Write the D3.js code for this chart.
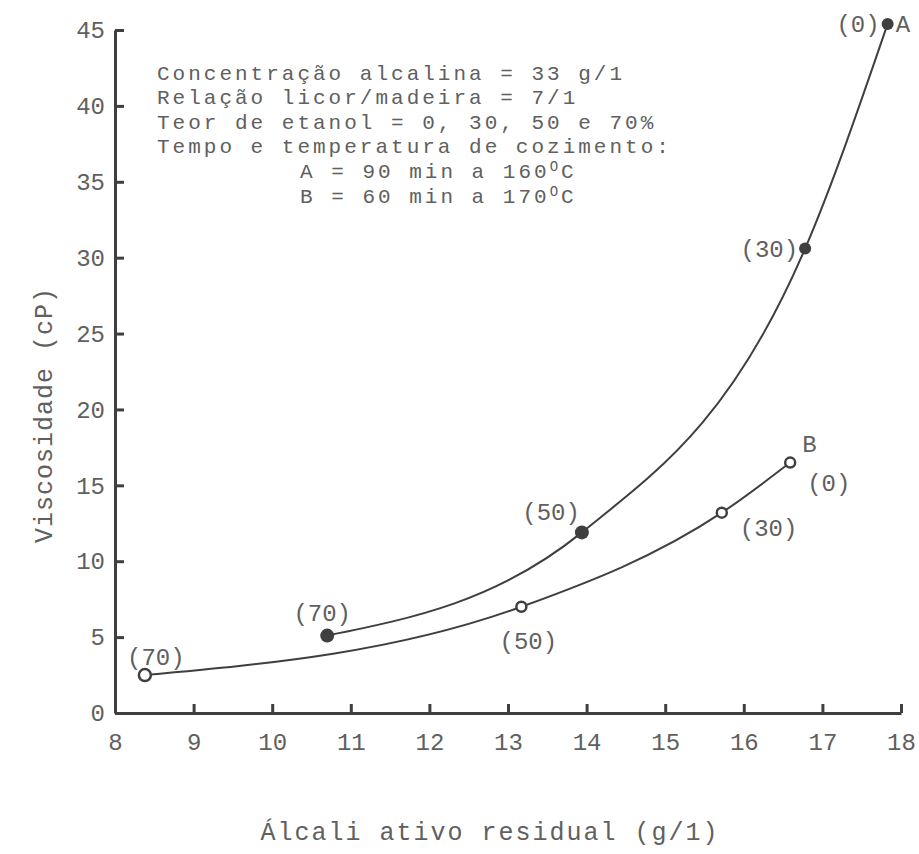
<!DOCTYPE html>
<html>
<head>
<meta charset="utf-8">
<script src="https://cdn.jsdelivr.net/npm/d3@7"></script>
<style>
	body { margin: 0; background: #fff; }
	text { font-family: "Liberation Mono", "DejaVu Sans Mono", monospace; fill: #606060; }
</style>
</head>
<body>
<div id="chart"></div>
<script>

///////////////////////////////////////////////////////////////////////////
/////////////////////////////// The data //////////////////////////////////
///////////////////////////////////////////////////////////////////////////

//Curve A - 90 min at 160 C
var alcaliA = [10.70, 13.94, 16.78, 17.83];
var viscA = [5.1, 11.9, 30.6, 45.4];
var etanolA = ["(70)", "(50)", "(30)", "(0)"];

//Curve B - 60 min at 170 C
var alcaliB = [8.38, 13.17, 15.72, 16.59];
var viscB = [2.5, 7.0, 13.2, 16.5];
var etanolB = ["(70)", "(50)", "(30)", "(0)"];

var xTicks = [8, 9, 10, 11, 12, 13, 14, 15, 16, 17, 18];
var yTicks = [0, 5, 10, 15, 20, 25, 30, 35, 40, 45];

var infoLines = [
	"Concentração alcalina = 33 g/1",
	"Relação licor/madeira = 7/1",
	"Teor de etanol = 0, 30, 50 e 70%",
	"Tempo e temperatura de cozimento:"
];
var infoTemps = [
	{ pre: "A = 90 min a 160", sup: "O", post: "C" },
	{ pre: "B = 60 min a 170", sup: "O", post: "C" }
];

///////////////////////////////////////////////////////////////////////////
//////////////////// Set up and initiate svg containers ///////////////////
///////////////////////////////////////////////////////////////////////////

var width = 919,
	height = 854;

var svg = d3.select("#chart").append("svg")
	.attr("width", width)
	.attr("height", height);

var x = d3.scaleLinear().domain([8, 18]).range([115, 901]);
var y = d3.scaleLinear().domain([0, 45]).range([713, 30]);

var lineColor = "#3f3f3f";

///////////////////////////////////////////////////////////////////////////
/////////////////////////////// Axes //////////////////////////////////////
///////////////////////////////////////////////////////////////////////////

//Ticks point inward, like the original drawing
var xAxis = svg.append("g")
	.attr("transform", "translate(0," + y(0) + ")")
	.call(d3.axisBottom(x).tickValues(xTicks).tickSizeInner(-9).tickSizeOuter(0).tickPadding(30));

var yAxis = svg.append("g")
	.attr("transform", "translate(" + x(8) + ",0)")
	.call(d3.axisLeft(y).tickValues(yTicks).tickSizeInner(-9).tickSizeOuter(0).tickPadding(10));

[xAxis, yAxis].forEach(function(a) {
	a.select(".domain").style("stroke", lineColor).style("stroke-width", 3);
	a.selectAll(".tick line").style("stroke", lineColor).style("stroke-width", 3);
	a.selectAll(".tick text")
		.style("font-family", "Liberation Mono, monospace")
		.style("font-size", "24px")
		.style("fill", "#606060");
});
xAxis.selectAll(".tick text").attr("dy", "0.3em");
xAxis.selectAll(".tick").filter(function(d) { return d === 8; }).select("line").remove();

//Axis titles
svg.append("text")
	.attr("transform", "translate(52," + 415 + ") rotate(-90)")
	.attr("text-anchor", "middle")
	.style("font-size", "25px")
	.style("letter-spacing", "1px")
	.text("Viscosidade (cP)");

svg.append("text")
	.attr("x", 490)
	.attr("y", 840)
	.attr("text-anchor", "middle")
	.style("font-size", "25px")
	.style("letter-spacing", "2px")
	.text("Álcali ativo residual (g/1)");

///////////////////////////////////////////////////////////////////////////
////////////////////////////// Info block /////////////////////////////////
///////////////////////////////////////////////////////////////////////////

var lineH = 24.3;
var info = svg.append("g").attr("transform", "translate(157,80)");

info.selectAll(".infoLine")
	.data(infoLines)
	.enter().append("text")
	.attr("class", "infoLine")
	.attr("y", function(d, i) { return i * lineH; })
	.style("font-size", "21px")
	.style("letter-spacing", "3px")
	.text(function(d) { return d; });

var temps = info.selectAll(".infoTemp")
	.data(infoTemps)
	.enter().append("text")
	.attr("class", "infoTemp")
	.attr("x", 143)
	.attr("y", function(d, i) { return (infoLines.length + i) * lineH + 1; })
	.style("font-size", "21px")
	.style("letter-spacing", "3px");
temps.append("tspan").text(function(d) { return d.pre; });
temps.append("tspan").attr("dy", -7).style("font-size", "14px").text(function(d) { return d.sup; });
temps.append("tspan").attr("dy", 7).text(function(d) { return d.post; });

///////////////////////////////////////////////////////////////////////////
/////////////////////////////// Curves ////////////////////////////////////
///////////////////////////////////////////////////////////////////////////

var dataA = alcaliA.map(function(d, i) { return { x: d, y: viscA[i], label: etanolA[i] }; });
var dataB = alcaliB.map(function(d, i) { return { x: d, y: viscB[i], label: etanolB[i] }; });

var line = d3.line()
	.x(function(d) { return x(d.x); })
	.y(function(d) { return y(d.y); })
	.curve(d3.curveMonotoneX);

svg.append("path")
	.datum(dataA)
	.attr("d", line)
	.style("fill", "none")
	.style("stroke", lineColor)
	.style("stroke-width", 2);

svg.append("path")
	.datum(dataB)
	.attr("d", line)
	.style("fill", "none")
	.style("stroke", lineColor)
	.style("stroke-width", 2);

//Filled dots for A, open dots for B
svg.selectAll(".dotA")
	.data(dataA)
	.enter().append("circle")
	.attr("class", "dotA")
	.attr("cx", function(d) { return x(d.x); })
	.attr("cy", function(d) { return y(d.y); })
	.attr("r", function(d, i) { return i < 2 ? 7 : 6; })
	.style("fill", lineColor);

svg.selectAll(".dotB")
	.data(dataB)
	.enter().append("circle")
	.attr("class", "dotB")
	.attr("cx", function(d) { return x(d.x); })
	.attr("cy", function(d) { return y(d.y); })
	.attr("r", function(d, i) { return i === 0 ? 6 : 5; })
	.style("fill", "#fff")
	.style("stroke", lineColor)
	.style("stroke-width", 2.5);

///////////////////////////////////////////////////////////////////////////
///////////////////////////// Point labels ////////////////////////////////
///////////////////////////////////////////////////////////////////////////

//Offsets of each label from its point, in pixels
var offA = [{dx: -5, dy: -23, a: "middle"}, {dx: -2, dy: -21, a: "end"}, {dx: -7, dy: 0, a: "end"}, {dx: -8, dy: 0, a: "end"}];
var offB = [{dx: 11, dy: -18, a: "middle"}, {dx: 7, dy: 34, a: "middle"}, {dx: 18, dy: 15, a: "start"}, {dx: 17, dy: 20, a: "start"}];

function addLabels(data, off) {
	svg.append("g").selectAll("text")
		.data(data)
		.enter().append("text")
		.attr("x", function(d, i) { return x(d.x) + off[i].dx; })
		.attr("y", function(d, i) { return y(d.y) + off[i].dy; })
		.attr("dy", "0.35em")
		.attr("text-anchor", function(d, i) { return off[i].a; })
		.style("font-size", "24px")
		.text(function(d) { return d.label; });
}
addLabels(dataA, offA);
addLabels(dataB, offB);

//Series names
var lastA = dataA[dataA.length - 1],
	lastB = dataB[dataB.length - 1];
svg.append("text")
	.attr("x", x(lastA.x) + 8)
	.attr("y", y(lastA.y))
	.attr("dy", "0.35em")
	.style("font-size", "24px")
	.text("A");
svg.append("text")
	.attr("x", x(lastB.x) + 12)
	.attr("y", y(lastB.y) - 19)
	.attr("dy", "0.35em")
	.style("font-size", "24px")
	.text("B");

</script>
</body>
</html>
